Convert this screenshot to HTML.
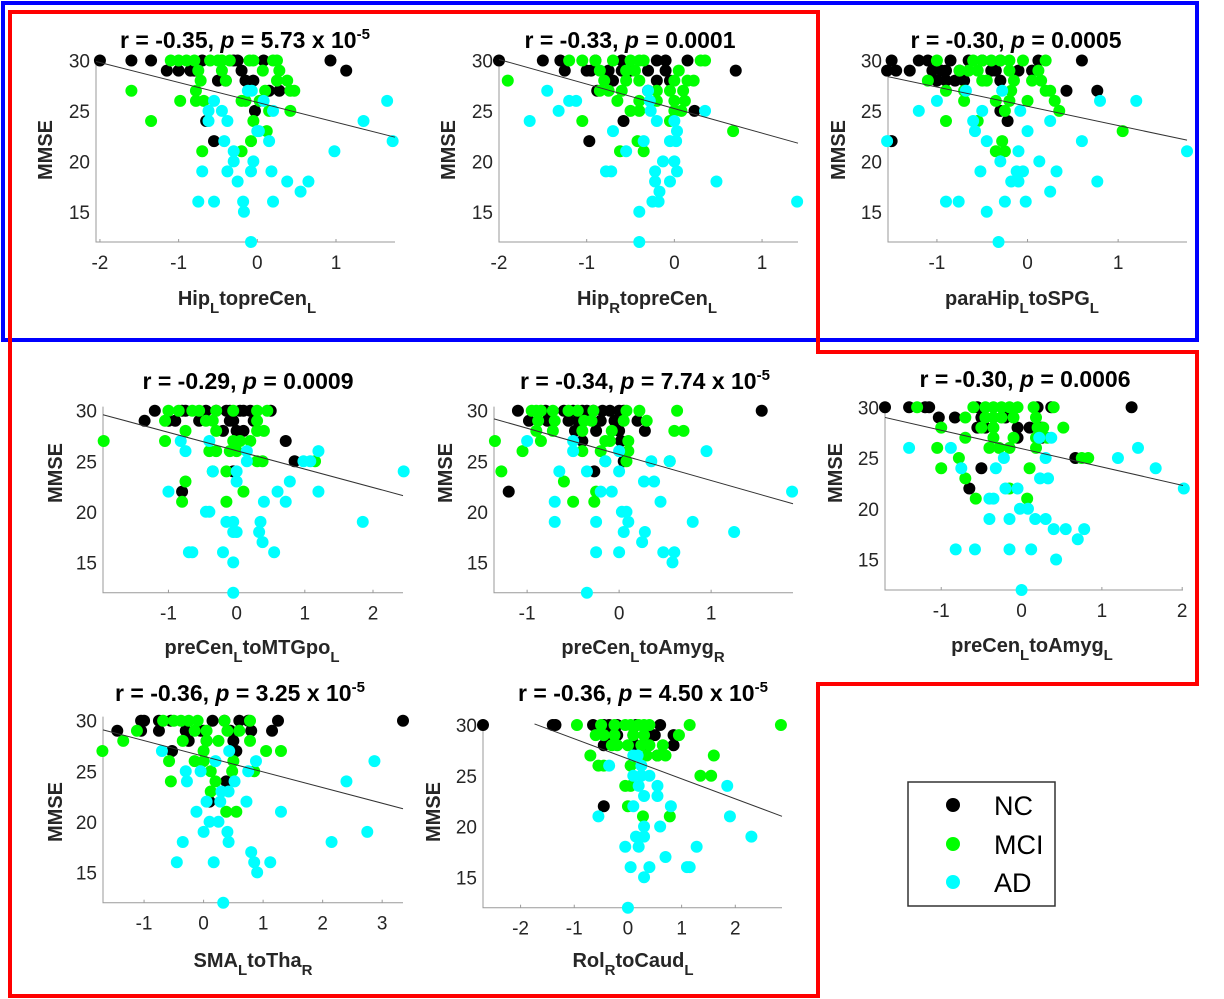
<!DOCTYPE html>
<html><head><meta charset="utf-8"><style>
html,body{margin:0;padding:0;background:#fff;}
svg{display:block;font-family:"Liberation Sans",sans-serif;}
</style></head><body>
<svg id="fig" width="1224" height="999" viewBox="0 0 1224 999">
<rect x="0" y="0" width="1224" height="999" fill="#fff"/>
<path d="M3,3 H1197 V340 H3 Z" fill="none" stroke="#0000ff" stroke-width="4"/>
<path d="M10,12 H818 V352 H1197 V684 H818 V996 H10 Z" fill="none" stroke="#ff0000" stroke-width="4"/>
<g id="panels"></g>
<g>
<rect x="908" y="782" width="147" height="124" fill="#fff" stroke="#333" stroke-width="1.5"/>
<circle cx="953" cy="805" r="7" fill="#000"/>
<text x="994" y="815" font-size="27" fill="#000">NC</text>
<circle cx="953" cy="844" r="7" fill="#00ff00"/>
<text x="994" y="854" font-size="27" fill="#000">MCI</text>
<circle cx="953" cy="882" r="7" fill="#00ffff"/>
<text x="994" y="892" font-size="27" fill="#000">AD</text>
</g>
</svg>
<script>
// ---- data (x = connectivity z-score, y = MMSE) ----
const p1NC=[[-2,30],[-1.6,30],[-1.35,30],[0.93,30],[1.13,29],[-1.15,29],[-1,29],[-0.85,29],[-0.8,29],[-0.5,28],[-0.4,28],[-0.2,29],[-0.15,28],[-0.05,28],[0.15,27],[0.28,27],[-0.03,25],[-0.55,22],[-0.65,24],[-0.3,30],[-0.25,30],[0.08,30],[-0.7,30]];
const p1MCI=[[-1.6,27],[-1.35,24],[-0.98,26],[-0.78,26],[-0.68,26],[-0.78,27],[-0.72,28],[-0.4,28],[-0.2,26],[-0.15,26],[0.03,26],[0.1,27],[0.42,27],[0.47,27],[0.38,28],[0.25,28],[0.28,29],[0.25,30],[0.2,30],[0.07,29],[-0.1,30],[-0.05,30],[-0.45,29],[-0.5,30],[-0.6,30],[-0.9,30],[-1.1,30],[-1,30],[-0.75,29],[-0.8,30],[-0.35,30],[-0.45,30],[0.42,25],[-0.05,24],[0.12,23],[-0.08,22],[-0.7,21],[-0.2,21],[0.15,25]];
const p1AD=[[-0.55,26],[-0.62,25],[-0.45,25],[-0.62,24],[-0.38,24],[-0.42,22],[-0.3,21],[-0.3,20],[-0.07,27],[-0.12,27],[0.02,23],[0,23],[0.15,22],[0.2,25],[0.08,26],[-0.05,20],[-0.7,19],[-0.38,19],[-0.08,19],[0.18,19],[-0.25,18],[0.38,18],[0.65,18],[0.55,17],[-0.75,16],[-0.55,16],[-0.18,16],[0.2,16],[-0.17,15],[-0.08,12],[1.65,26],[1.35,24],[1.72,22],[0.98,21]];
const p2NC=[[-2,30],[-1.5,30],[-1.3,30],[-1.25,29],[-1,29],[-0.95,29],[-0.75,29],[-0.6,29],[-0.5,29],[-0.3,29],[-0.2,30],[-0.1,30],[0.15,30],[-0.1,29],[-0.2,28],[-0.05,28],[-0.7,28],[-0.88,27],[-0.3,27],[0.23,25],[-0.58,24],[-0.97,22],[0.7,29],[-0.6,30],[-0.9,30]];
const p2MCI=[[-1.9,28],[-1.2,30],[-1.05,30],[-0.9,30],[-0.7,30],[-0.5,30],[-0.4,30],[-0.35,30],[0.3,30],[0.35,30],[-0.55,29],[-0.45,29],[-0.85,29],[0.05,29],[-0.8,28],[-0.55,28],[-0.4,28],[0,28],[0.15,28],[0.22,28],[-0.85,27],[-0.75,27],[-0.6,27],[-0.2,27],[-0.05,27],[0.1,27],[-0.65,26],[-0.4,26],[-0.2,26],[0,26],[0.12,26],[-0.5,25],[-0.4,25],[0,25],[0.08,25],[-1.05,24],[-0.05,24],[0.67,23],[-0.42,22],[-0.62,21],[-0.35,21]];
const p2AD=[[-1.45,27],[-1.2,26],[-1.12,26],[-1.32,25],[-1.65,24],[-0.7,23],[-0.55,21],[-0.35,22],[-0.3,27],[-0.28,26],[-0.27,25],[-0.2,24],[-0.05,22],[0,24],[0.03,23],[0.02,22],[0.35,25],[-0.13,20],[0,20],[0.03,19],[-0.78,19],[-0.72,19],[-0.22,19],[-0.22,18],[-0.05,18],[-0.17,17],[-0.25,16],[-0.18,16],[-0.4,15],[-0.4,12],[0.48,18],[1.4,16]];
const p3NC=[[-1.5,30],[-1.55,29],[-1.45,29],[-1.3,29],[-1.2,30],[-1.1,30],[-1.05,29],[-0.95,29],[-0.9,29],[-1,28],[-0.9,28],[-0.8,28],[-0.85,30],[-0.75,29],[-0.7,28],[-0.65,30],[-0.5,30],[-0.4,29],[-0.35,29],[-0.3,30],[-0.3,28],[-0.3,25],[-0.22,24],[-0.1,29],[0.05,29],[0.12,30],[0.43,27],[0.6,30],[0.77,27],[-1.5,22]];
const p3MCI=[[-1,30],[-1.1,28],[-0.9,27],[-0.7,26],[-0.7,27],[-0.75,29],[-0.65,29],[-0.55,29],[-0.6,30],[-0.5,30],[-0.4,30],[-0.3,30],[-0.2,30],[-0.05,30],[0.2,30],[-0.5,28],[-0.45,28],[-0.2,29],[-0.15,28],[0.05,28],[0.12,29],[0.15,28],[0.2,27],[0.25,27],[-0.18,27],[-0.35,26],[-0.2,26],[0,26],[0.3,26],[0.35,25],[-0.25,25],[-0.55,24],[-0.9,24],[-0.28,22],[-0.35,21],[-0.25,21],[1.05,23]];
const p3AD=[[-1.55,22],[-1.2,25],[-1,26],[-0.68,27],[-0.28,27],[-0.5,25],[-0.6,24],[-0.58,23],[-0.45,22],[-0.08,25],[0,23],[-0.3,20],[-0.1,21],[-0.52,19],[-0.12,19],[-0.05,19],[-0.18,18],[-0.1,18],[0.13,20],[0.32,19],[0.25,17],[0.25,24],[0.6,22],[0.8,26],[1.2,26],[0.77,18],[1.76,21],[-0.9,16],[-0.76,16],[-0.25,16],[-0.02,16],[-0.45,15],[-0.32,12]];
const p4NC=[[-1.35,29],[-1.2,30],[-1,29],[-0.9,29],[-0.8,30],[-0.75,30],[-0.55,29],[-0.45,30],[-0.3,30],[-0.2,28],[-0.15,30],[-0.1,29],[-0.05,29],[0,28],[0.1,28],[0.1,30],[0.2,30],[0.25,29],[0.5,30],[0.72,27],[0.85,25],[-0.05,24],[-0.8,22],[0.05,30],[-0.1,30]];
const p4MCI=[[-1.95,27],[-1.05,27],[-1.05,29],[-1,30],[-0.85,30],[-0.75,28],[-0.65,30],[-0.55,30],[-0.45,29],[-0.35,29],[-0.3,28],[-0.4,26],[-0.3,26],[-0.1,26],[-0.05,27],[0.05,27],[0.2,27],[0,26],[-0.05,30],[-0.3,30],[0.3,28],[0.4,28],[0.3,30],[0.45,30],[0.3,29],[0.3,25],[0.38,25],[1.15,25],[-0.35,24],[-0.15,24],[-0.75,23],[0.1,22],[-0.8,21],[-0.15,21]];
const p4AD=[[-0.82,27],[-0.4,27],[-0.75,26],[-1,22],[-0.4,20],[-0.45,20],[-0.15,19],[-0.05,19],[-0.05,18],[0,18],[-0.2,16],[-0.7,16],[-0.65,16],[-0.05,15],[-0.05,12],[0.15,26],[0.15,25],[0,24],[0,23],[0.4,21],[0.35,19],[0.33,18],[0.38,17],[0.55,16],[0.6,22],[0.72,21],[0.78,23],[0.98,25],[1.08,25],[1.2,26],[1.2,22],[1.85,19],[2.45,24],[-0.35,24]];
const p5NC=[[-1.1,30],[-0.98,29],[-0.8,30],[-0.78,29],[-0.6,30],[-0.55,29],[-0.5,30],[-0.45,29],[-0.48,28],[-0.4,30],[-0.35,30],[-0.28,30],[-0.2,29],[-0.18,30],[-0.25,28],[-0.1,30],[-0.05,29],[0,30],[0.05,30],[0,28],[0.02,27],[0.05,25],[0.2,29],[0.28,28],[-0.4,27],[-0.27,24],[-1.2,22],[1.55,30]];
const p5MCI=[[-1.35,27],[-1.28,24],[-1.05,26],[-0.95,30],[-0.9,30],[-0.85,30],[-0.9,28],[-0.85,27],[-0.88,29],[-0.72,30],[-0.7,29],[-0.72,28],[-0.55,30],[-0.45,30],[-0.4,28],[-0.38,29],[-0.3,29],[-0.28,30],[-0.4,26],[-0.2,26],[-0.15,27],[-0.1,27],[-0.08,28],[-0.15,25],[0.08,25],[0.1,27],[0.1,26],[0.08,30],[0.22,30],[0.3,29],[0.55,25],[0.6,28],[0.63,30],[0.7,28],[-0.6,23],[-0.25,22],[-0.27,21],[-0.5,21],[0.05,29]];
const p5AD=[[-1,27],[-0.5,27],[-0.5,26],[-0.15,25],[0,26],[0,24],[-0.65,24],[-0.35,24],[-0.7,21],[-0.7,19],[-0.25,19],[-0.2,22],[-0.08,22],[0.03,20],[0.08,20],[0.1,19],[0.05,18],[0.28,18],[0.25,17],[0.35,25],[0.27,23],[0.38,23],[0.45,21],[0.55,25],[0.48,16],[0.58,15],[0.6,16],[-0.25,16],[0,16],[0.8,19],[0.95,26],[1.25,18],[1.88,22],[-0.35,12]];
const p6NC=[[-1.7,30],[-1.4,30],[-1.2,30],[-1.15,30],[-1.03,29],[-0.83,29],[-0.55,30],[-0.5,29],[-0.55,28],[-0.45,28],[-0.2,29],[-0.05,28],[0.1,28],[0.25,28],[-0.05,27],[0.25,27],[0.2,30],[0.37,30],[0.67,25],[-0.5,24],[-0.65,22],[1.37,30]];
const p6MCI=[[-1.3,30],[-1,28],[-1.05,26],[-1,24],[-0.7,27],[-0.7,29],[-0.78,25],[-0.7,23],[-0.57,21],[-0.6,30],[-0.45,30],[-0.35,30],[-0.25,30],[-0.15,30],[-0.05,30],[0.15,30],[0.4,30],[-0.45,29],[-0.35,29],[-0.25,29],[-0.1,29],[0.18,29],[-0.5,28],[-0.35,28],[0.2,28],[0.27,28],[0.52,28],[-0.35,27],[-0.1,27],[0.18,27],[0.32,27],[-0.4,26],[-0.28,26],[-0.15,26],[0.18,26],[0.1,24],[-0.15,22],[0.07,21],[0.75,25],[0.83,25]];
const p6AD=[[-1.4,26],[-0.88,26],[-0.75,24],[-0.32,24],[-0.22,25],[-0.4,21],[-0.35,21],[-0.2,22],[-0.05,22],[-0.4,19],[-0.15,19],[-0.02,20],[0.08,20],[0.17,19],[0.3,19],[0.22,27],[0.37,27],[0.3,25],[0.23,23],[0.33,23],[0.4,18],[0.55,18],[0.7,17],[0.78,18],[0.43,15],[-0.82,16],[-0.58,16],[-0.15,16],[0.12,16],[1.2,25],[1.45,26],[1.67,24],[2.02,22],[0,12]];
const p7NC=[[-1.45,29],[-1.05,30],[-1,30],[-1.05,29],[-0.75,30],[-0.75,29],[-0.55,30],[-0.3,29],[-0.25,28],[-0.05,29],[0,29],[0.15,30],[0.35,30],[0.45,29],[0.5,28],[0.55,27],[0.6,30],[0.75,30],[0.8,29],[1.15,29],[1.25,30],[-0.53,27],[0.38,24],[0.1,22],[3.35,30],[0.05,28]];
const p7MCI=[[-1.7,27],[-1.35,28],[-1.12,29],[-0.68,30],[-0.5,30],[-0.38,30],[-0.25,30],[-0.1,30],[0.35,30],[0.78,30],[-0.15,29],[0.05,29],[0.4,29],[0.6,29],[-0.35,28],[0.05,28],[0.25,28],[0.78,28],[0,27],[1.05,27],[1.3,27],[-0.58,26],[-0.15,26],[0,26],[0.5,26],[0.12,25],[0.48,25],[0.85,25],[-0.55,24],[0.2,24],[0.12,23],[0.38,21],[0.55,21]];
const p7AD=[[-0.7,27],[0.43,27],[0.2,26],[0.88,26],[-0.3,25],[-0.05,25],[0.75,25],[-0.28,24],[0.52,24],[0.3,23],[0.42,23],[0.05,22],[0.28,22],[0.72,22],[-0.12,21],[0.1,20],[0.25,20],[0,19],[0.4,19],[0.42,18],[-0.35,18],[-0.45,16],[0.17,16],[0.8,17],[0.85,16],[0.9,15],[1.12,16],[1.3,21],[2.15,18],[2.4,24],[2.75,19],[2.87,26],[0.33,12]];
const p8NC=[[-2.7,30],[-1.4,30],[-1.35,30],[-0.65,30],[-0.45,30],[-0.35,30],[-0.2,30],[0.15,30],[0.6,30],[-0.4,29],[-0.2,29],[0.1,29],[0.35,29],[0.5,29],[0.85,29],[-0.45,28],[0.15,28],[0.35,28],[0.85,28],[0.55,27],[-0.45,22]];
const p8MCI=[[-0.95,30],[-0.5,30],[-0.25,30],[-0.05,30],[0.05,30],[0.2,30],[0.3,30],[0.4,30],[1.15,30],[2.85,30],[-0.6,29],[-0.45,29],[-0.25,29],[0.1,29],[0.3,29],[0.95,29],[-0.3,28],[-0.2,28],[0,28],[0.25,28],[0.4,28],[0.65,28],[-0.7,27],[0.35,27],[0.55,27],[0.7,27],[1.6,27],[-0.55,26],[-0.45,26],[0.05,26],[-0.05,24],[0.05,24],[1.35,25],[1.55,25],[0,22],[0.28,21],[0.78,21]];
const p8AD=[[-0.35,26],[0.1,27],[0.18,27],[0.25,26],[0.1,25],[0.25,25],[0.4,25],[0.2,24],[0.55,24],[0.3,23],[0.55,23],[0.1,22],[0.8,22],[-0.55,21],[0.3,20],[0.6,20],[0.15,19],[0.3,19],[-0.05,18],[0.2,18],[0.7,17],[1.28,18],[0.05,16],[0.4,16],[1.1,16],[1.15,16],[0.3,15],[1.85,24],[1.9,21],[2.3,19],[0,12]];
// regression fits: slope, intercept, x-extent
const fitSlopes=[-1.974,-2.434,-1.909,-1.818,-2.585,-1.806,-1.548,-1.974];
const fitIntercepts=[25.85,25.23,25.46,26.04,25.68,25.93,26.48,26.67];
const fitStarts=[-2.05,-2.0,-1.54,-1.96,-1.36,-1.70,-1.69,-1.74];
const fitEnds=[1.75,1.41,1.76,2.44,1.89,2.01,3.35,2.87];
const titleR=["-0.35","-0.33","-0.30","-0.29","-0.34","-0.30","-0.36","-0.36"];
const titleP=[["5.73","-5"],["0.0001",""],["0.0005",""],["0.0009",""],["7.74","-5"],["0.0006",""],["3.25","-5"],["4.50","-5"]];
const xLabels=[[["Hip",""],["L","s"],["topreCen",""],["L","s"]],[["Hip",""],["R","s"],["topreCen",""],["L","s"]],[["paraHip",""],["L","s"],["toSPG",""],["L","s"]],[["preCen",""],["L","s"],["toMTGpo",""],["L","s"]],[["preCen",""],["L","s"],["toAmyg",""],["R","s"]],[["preCen",""],["L","s"],["toAmyg",""],["L","s"]],[["SMA",""],["L","s"],["toTha",""],["R","s"]],[["Rol",""],["R","s"],["toCaud",""],["L","s"]]];
const xTicks=[[-2,-1,0,1],[-2,-1,0,1],[-1,0,1],[-1,0,1,2],[-1,0,1],[-1,0,1,2],[-1,0,1,2,3],[-2,-1,0,1,2]];
const yTicks=[15,20,25,30];
const groups=[[p1NC,p1MCI,p1AD],[p2NC,p2MCI,p2AD],[p3NC,p3MCI,p3AD],[p4NC,p4MCI,p4AD],[p5NC,p5MCI,p5AD],[p6NC,p6MCI,p6AD],[p7NC,p7MCI,p7AD],[p8NC,p8MCI,p8AD]];

// layout (pixels)
const L=[
 {l:96,r:395,x0:-2.05,x1:1.75,y30:60.5,y12:242,tx:245,ty:48,lx:247,ly:305,mx:45,my:150},
 {l:499,r:798,x0:-2.0,x1:1.41,y30:60.5,y12:242,tx:630,ty:48,lx:647,ly:305,mx:448,my:150},
 {l:888,r:1187,x0:-1.54,x1:1.76,y30:60.5,y12:242,tx:1016,ty:48,lx:1022,ly:305,mx:838,my:150},
 {l:103,r:403,x0:-1.96,x1:2.44,y30:410.7,y12:592.7,tx:248,ty:389,lx:252,ly:654,mx:55,my:473},
 {l:494,r:793,x0:-1.36,x1:1.89,y30:410.7,y12:592.7,tx:645,ty:389,lx:643,ly:654,mx:445,my:473},
 {l:885,r:1183,x0:-1.70,x1:2.01,y30:407.3,y12:590,tx:1025,ty:387,lx:1032,ly:652,mx:835,my:473},
 {l:103,r:403,x0:-1.69,x1:3.35,y30:720.7,y12:902.7,tx:240,ty:701,lx:253,ly:967,mx:55,my:812},
 {l:483,r:782,x0:-2.7,x1:2.87,y30:725,y12:907.7,tx:643,ty:701,lx:633,ly:967,mx:433,my:812}
];
const colors=["#000000","#00ff00","#00ffff"];
const gnames=["nc","mci","ad"];
const NS="http://www.w3.org/2000/svg";
function mk(tag,attrs,parent){const e=document.createElementNS(NS,tag);for(const k in attrs)e.setAttribute(k,attrs[k]);parent.appendChild(e);return e;}
const root=document.getElementById('panels');
L.forEach((g,i)=>{
 const sx=v=>g.l+(v-g.x0)/(g.x1-g.x0)*(g.r-g.l);
 const sy=v=>g.y12-(v-12)/18*(g.y12-g.y30);
 const pg=mk('g',{},root);
 
 
 const ax=mk('path',{d:`M${g.l},${sy(30.4)} V${g.y12} H${g.r}`,fill:'none',stroke:'#9a9a9a','stroke-width':1},pg);
 
 
 yTicks.forEach(t=>{
  const tl=mk('text',{x:g.l-6,y:sy(t)+7,'text-anchor':'end','font-size':19,fill:'#262626'},pg);
  tl.textContent=t;
  
  
 });
 xTicks[i].forEach(t=>{
  const tl=mk('text',{x:sx(t),y:g.y12+27,'text-anchor':'middle','font-size':19,fill:'#262626'},pg);
  tl.textContent=t;
  
  
  const tk=mk('line',{x1:sx(t),x2:sx(t),y1:g.y12,y2:g.y12-3,stroke:'#9a9a9a'},pg);
  
  
 });
 groups[i].forEach((arr,gi)=>{
  arr.forEach(p=>{
   const c=mk('circle',{cx:sx(p[0]),cy:sy(p[1]),r:6,fill:colors[gi]},pg);
   
   
  });
 });
 const fl=mk('line',{x1:sx(fitStarts[i]),y1:sy(fitIntercepts[i]+fitSlopes[i]*fitStarts[i]),x2:sx(fitEnds[i]),y2:sy(fitIntercepts[i]+fitSlopes[i]*fitEnds[i]),stroke:'#333','stroke-width':1},pg);
 
 
 const tt=mk('text',{x:g.tx,y:g.ty,'text-anchor':'middle','font-size':23,'font-weight':'bold',fill:'#000'},pg);
 
 
 let h='r = '+titleR[i]+', <tspan font-style="italic">p</tspan> = '+titleP[i][0];
 if(titleP[i][1]) h=h.replace(titleP[i][0],titleP[i][0]+' x 10<tspan dy="-9" font-size="15">'+titleP[i][1]+'</tspan>');
 tt.innerHTML=h;
 const xl=mk('text',{x:g.lx,y:g.ly,'text-anchor':'middle','font-size':20,'font-weight':'bold',fill:'#262626'},pg);
 
 
 let s='',sub=false;
 xLabels[i].forEach(seg=>{
  if(seg[1]==='s'){s+='<tspan dy="8" font-size="15">'+seg[0]+'</tspan>';sub=true;}
  else{s+='<tspan'+(sub?' dy="-8"':'')+'>'+seg[0]+'</tspan>';sub=false;}
 });
 xl.innerHTML=s;
 const yl=mk('text',{x:0,y:0,transform:`translate(${g.mx+7},${g.my}) rotate(-90)`,'text-anchor':'middle','font-size':20,'font-weight':'bold',fill:'#262626'},pg);
 yl.textContent='MMSE';
 
 
});
</script>
</body></html>
